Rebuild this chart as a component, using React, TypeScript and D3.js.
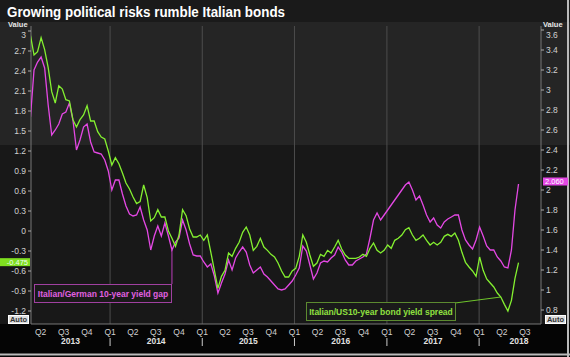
import React from 'react';
import * as d3 from 'd3';

const title = 'Growing political risks rumble Italian bonds';
const seriesStart = new Date(2013, 1, 20);
const stepDays = 14;
// Italian/US 10-year bond yield spread (left axis, green)
const usSpread = [
  2.93, 2.64, 2.69, 2.90, 2.72, 2.45, 2.09, 1.92, 2.18, 2.13, 1.97, 1.95, 1.67, 1.56, 1.67, 1.74, 1.88, 1.65, 1.65, 1.49,
  1.41, 1.38, 1.20, 0.99, 1.10, 1.01, 0.87, 0.72, 0.63, 0.51, 0.41, 0.44, 0.69, 0.50, 0.15, 0.20, 0.32, 0.21, 0.21, 0.00,
  -0.11, -0.23, -0.06, 0.32, 0.23, 0.03, -0.09, -0.09, -0.06, -0.14, -0.06, -0.32, -0.59, -0.86, -0.68, -0.59, -0.33, -0.38, -0.26, -0.17,
  -0.02, 0.06, -0.06, -0.29, -0.23, -0.11, -0.24, -0.29, -0.35, -0.39, -0.48, -0.60, -0.69, -0.69, -0.60, -0.56, -0.38, -0.06, -0.17, -0.36,
  -0.53, -0.48, -0.35, -0.38, -0.29, -0.33, -0.24, -0.14, -0.27, -0.36, -0.41, -0.41, -0.41, -0.39, -0.35, -0.38, -0.26, -0.18, -0.29, -0.33,
  -0.29, -0.21, -0.26, -0.14, -0.11, -0.06, 0.02, 0.05, -0.06, -0.14, -0.11, -0.06, -0.14, -0.21, -0.17, -0.21, -0.17, -0.08, -0.05, -0.08,
  -0.03, -0.14, -0.32, -0.47, -0.54, -0.60, -0.68, -0.39, -0.59, -0.72, -0.78, -0.84, -0.93, -0.99, -1.10, -1.20, -1.04, -0.71, -0.475,
];
// Italian/German 10-year yield gap (right axis, magenta)
const germanGap = [
  2.73, 3.20, 3.28, 3.33, 3.22, 2.85, 2.55, 2.60, 2.66, 2.76, 2.78, 2.87, 2.70, 2.40, 2.50, 2.63, 2.66, 2.48, 2.38, 2.37,
  2.36, 2.30, 2.19, 2.00, 2.10, 2.10, 1.96, 1.84, 1.76, 1.74, 1.75, 1.83, 1.70, 1.60, 1.40, 1.54, 1.64, 1.54, 1.67, 1.54,
  1.40, 1.48, 1.52, 1.70, 1.60, 1.46, 1.35, 1.34, 1.34, 1.28, 1.23, 1.26, 1.14, 0.97, 1.07, 1.16, 1.30, 1.20, 1.32, 1.38,
  1.43, 1.38, 1.25, 1.17, 1.20, 1.23, 1.16, 1.13, 1.09, 1.05, 1.01, 1.00, 1.01, 1.05, 1.09, 1.15, 1.22, 1.44, 1.39, 1.25,
  1.11, 1.17, 1.27, 1.29, 1.28, 1.32, 1.35, 1.43, 1.38, 1.30, 1.25, 1.25, 1.29, 1.31, 1.33, 1.36, 1.52, 1.70, 1.77, 1.70,
  1.75, 1.80, 1.85, 1.90, 1.95, 2.00, 2.05, 2.08, 2.00, 1.90, 1.94, 1.85, 1.75, 1.68, 1.72, 1.65, 1.62, 1.68, 1.71, 1.73,
  1.75, 1.75, 1.60, 1.50, 1.45, 1.41, 1.50, 1.63, 1.54, 1.44, 1.40, 1.40, 1.33, 1.29, 1.23, 1.22, 1.40, 1.80, 2.06,
];
const leftTicks = [3, 2.7, 2.4, 2.1, 1.8, 1.5, 1.2, 0.9, 0.6, 0.3, 0, -0.3, -0.6, -0.9, -1.2];
const rightTicks = [3.6, 3.4, 3.2, 3, 2.8, 2.6, 2.4, 2.2, 2, 1.8, 1.6, 1.4, 1.2, 1, 0.8];
const quarterNames = ['Q1', 'Q2', 'Q3', 'Q4'];
const years = [2013, 2014, 2015, 2016, 2017, 2018];
const lastUsLabel = '-0.475';
const lastDeLabel = '2.060';
const legendDe = 'Italian/German 10-year yield gap';
const legendUs = 'Italian/US10-year bond yield spread';
const axisName = 'Value';
const autoLabel = 'Auto';

const W = 570, H = 357;
const L = 31, R = 541, T = 26, B = 324;
const GREEN = '#84f030';
const PINK = '#e448e4';
const FONT = '"Liberation Sans", Arial, sans-serif';

export default function App() {
  const x = d3.scaleTime().domain([new Date(2013, 1, 22), new Date(2018, 8, 3)]).range([L, R]);
  const yL = d3.scaleLinear().domain([-1.395, 3.075]).range([B, T]);
  const yR = d3.scaleLinear().domain([0.66, 3.64]).range([B, T]);
  const dates = usSpread.map((_, i) => d3.timeDay.offset(seriesStart, i * stepDays));
  const us = usSpread.map((v, i) => ({ d: dates[i], v }));
  const de = germanGap.map((v, i) => ({ d: dates[i], v }));
  const lineUs = d3.line<any>().x(p => x(p.d)).y(p => yL(p.v))(us) || '';
  const lineDe = d3.line<any>().x(p => x(p.d)).y(p => yR(p.v))(de) || '';

  const quarters = d3.timeMonth.every(3)!.range(new Date(2013, 1, 22), new Date(2018, 8, 4));
  const yearStarts = years.map(y => new Date(y, 0, 1)).filter(d => x(d) > L);

  const yearLabelX = (yr: number) => {
    const a = Math.max(L, x(new Date(yr, 0, 1)));
    const b = Math.min(559, x(new Date(yr + 1, 0, 1)));
    return (a + b) / 2;
  };
  const labelY = (y: number) => Math.max(y, 35) + 3;

  const deIdx = 40;
  const usIdx = 133;
  const yUsLast = yL(usSpread[usSpread.length - 1]);
  const yDeLast = yR(germanGap[germanGap.length - 1]);

  return (
    <svg width={W} height={H} style={{ position: 'absolute', left: 0, top: 0, fontFamily: FONT }}>
      <defs>
        <clipPath id="plot"><rect x={L} y={T} width={R - L} height={B - T} /></clipPath>
      </defs>
      <rect x={0} y={0} width={W} height={H} fill="#1a1a1a" />
      <rect x={0} y={22} width={W} height={123} fill="#252525" />
      <rect x={0} y={145} width={W} height={B - 145} fill="#181818" />
      <rect x={0} y={B} width={W} height={H - B} fill="#050505" />
      <line x1={0} x2={W} y1={354.5} y2={354.5} stroke="#bbb" strokeWidth={2} />
      <line x1={568} x2={568} y1={0} y2={H} stroke="#bbb" strokeWidth={2} />

      <text x={7} y={16.5} fill="#fff" fontWeight="bold" fontSize={14} textLength={278} lengthAdjust="spacingAndGlyphs">{title}</text>

      {yearStarts.map((d, i) => (
        <line key={i} x1={x(d)} x2={x(d)} y1={T} y2={B} stroke="#4d4d4d" strokeWidth={1} />
      ))}

      <line x1={L} x2={L} y1={T} y2={B} stroke="#777" />
      <line x1={R} x2={R} y1={T} y2={B} stroke="#777" />
      <line x1={L} x2={R} y1={B} y2={B} stroke="#777" />

      {leftTicks.map(t => (
        <g key={'l' + t}>
          <line x1={L - 3} x2={L} y1={yL(t)} y2={yL(t)} stroke="#aaa" />
          <text x={L - 5} y={labelY(yL(t))} textAnchor="end" fontSize={8.5} fill="#d0d0d0">{t}</text>
        </g>
      ))}
      {rightTicks.map(t => (
        <g key={'r' + t}>
          <line x1={R} x2={R + 3} y1={yR(t)} y2={yR(t)} stroke="#aaa" />
          <text x={R + 5} y={labelY(yR(t))} fontSize={8.5} fill="#d0d0d0">{t}</text>
        </g>
      ))}
      <text x={8} y={27} fontSize={7.5} fontWeight="bold" fill="#e8e8e8">{axisName}</text>
      <text x={543} y={27} fontSize={7.5} fontWeight="bold" fill="#e8e8e8">{axisName}</text>

      <g clipPath="url(#plot)">
        <path d={lineDe} fill="none" stroke={PINK} strokeWidth={1.3} />
        <path d={lineUs} fill="none" stroke={GREEN} strokeWidth={1.3} />
      </g>

      <line x1={x(dates[deIdx])} x2={x(dates[deIdx])} y1={284} y2={yR(germanGap[deIdx])} stroke={PINK} strokeWidth={1} opacity={0.8} />
      <line x1={455} x2={x(dates[usIdx])} y1={303} y2={yL(usSpread[usIdx])} stroke={GREEN} strokeWidth={1} opacity={0.8} />

      <rect x={34.5} y={284.5} width={137} height={18} fill="#1a1a1a" stroke="#a040a0" />
      <text x={103} y={296.5} textAnchor="middle" fontSize={8.5} fontWeight="bold" fill="#e060e0">{legendDe}</text>
      <rect x={306.5} y={302.5} width={149} height={18} fill="#1a1a1a" stroke="#5c8a30" />
      <text x={381} y={314.5} textAnchor="middle" fontSize={8.5} fontWeight="bold" fill="#90e040">{legendUs}</text>

      <rect x={0} y={yUsLast - 4.5} width={30} height={8} fill="#7fe020" />
      <text x={28} y={yUsLast + 2.3} textAnchor="end" fontSize={7.5} fill="#f0fff0">{lastUsLabel}</text>
      <rect x={543} y={yDeLast - 6.5} width={25} height={8} fill={PINK} />
      <text x={545} y={yDeLast + 0.2} fontSize={7.5} fill="#fff">{lastDeLabel}</text>

      <rect x={8.5} y={315.5} width={20} height={8} fill="#ddd" stroke="#fff" />
      <text x={18.5} y={322.2} textAnchor="middle" fontSize={7.5} fontWeight="bold" fill="#333">{autoLabel}</text>
      <rect x={545.5} y={315.5} width={20} height={8} fill="#ddd" stroke="#fff" />
      <text x={555.5} y={322.2} textAnchor="middle" fontSize={7.5} fontWeight="bold" fill="#333">{autoLabel}</text>

      {quarters.map((d, i) => (
        <text key={i} x={x(d)} y={335} textAnchor="middle" fontSize={8.5} fill="#d0d0d0">{quarterNames[Math.floor(d.getMonth() / 3)]}</text>
      ))}
      {yearStarts.map((d, i) => (
        <line key={i} x1={x(d)} x2={x(d)} y1={338} y2={346} stroke="#ccc" />
      ))}
      {years.map(yr => (
        <text key={yr} x={yearLabelX(yr)} y={344} textAnchor="middle" fontSize={8.5} fontWeight="bold" fill="#e0e0e0">{yr}</text>
      ))}
    </svg>
  );
}
